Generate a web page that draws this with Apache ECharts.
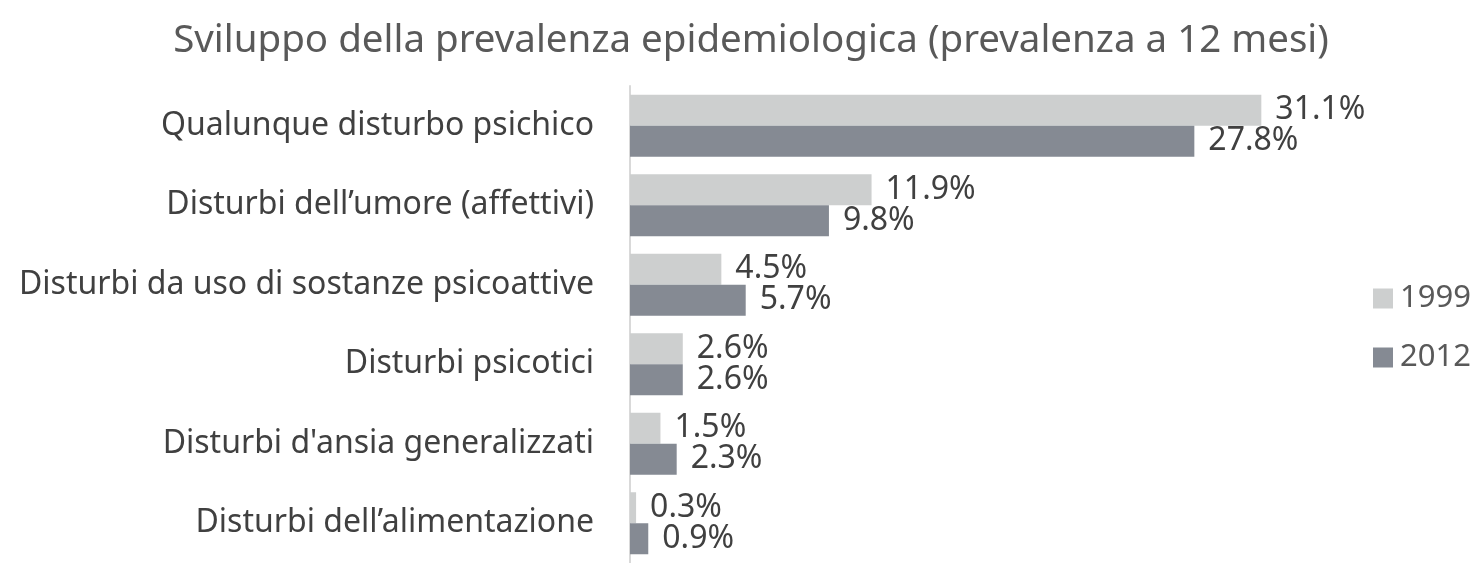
<!DOCTYPE html>
<html>
<head>
<meta charset="utf-8">
<script src="https://cdn.jsdelivr.net/npm/echarts@6/dist/echarts.min.js"></script>
<style>
  html, body { margin: 0; padding: 0; background: #fff; }
  #chart { width: 1476px; height: 563px; }
</style>
</head>
<body>
<div id="chart"></div>
<script>
var categories = [
  'Qualunque disturbo psichico',
  'Disturbi dell\u2019umore (affettivi)',
  'Disturbi da uso di sostanze psicoattive',
  'Disturbi psicotici',
  "Disturbi d'ansia generalizzati",
  'Disturbi dell\u2019alimentazione'
];
var values1999 = [31.1, 11.9, 4.5, 2.6, 1.5, 0.3];
var values2012 = [27.8, 9.8, 5.7, 2.6, 2.3, 0.9];
var seriesNames = ['1999', '2012'];

var font = 'Noto Sans';
var myChart = echarts.init(document.getElementById('chart'));

function makeSeries(name, data, color) {
  return {
    name: name,
    type: 'bar',
    data: data,
    barGap: '0%',
    barCategoryGap: '22%',
    itemStyle: { color: color },
    label: {
      show: true,
      position: 'right',
      distance: 14,
      fontFamily: font,
      fontSize: 32,
      color: '#404040',
      formatter: function (p) { return p.value.toFixed(1) + '%'; }
    }
  };
}

var option = {
  animation: false,
  title: {
    text: 'Sviluppo della prevalenza epidemiologica (prevalenza a 12 mesi)',
    left: 746,
    textAlign: 'center',
    top: 17,
    textStyle: { fontFamily: font, fontSize: 38.5, fontWeight: 'normal', color: '#595959' }
  },
  legend: {
    data: seriesNames,
    orient: 'vertical',
    left: 1368,
    top: 278,
    itemWidth: 20,
    itemHeight: 20,
    itemGap: 28,
    icon: 'rect',
    textStyle: { fontFamily: font, fontSize: 31, color: '#595959', padding: [0, 0, 0, 2] }
  },
  grid: {
    left: 630,
    top: 86,
    width: 812,
    height: 483
  },
  xAxis: {
    type: 'value',
    min: 0,
    max: 40,
    show: false
  },
  yAxis: {
    type: 'category',
    data: categories,
    inverse: true,
    axisLine: { show: true, lineStyle: { color: '#d9d9d9', width: 2 } },
    axisTick: { show: false },
    axisLabel: { margin: 36, fontFamily: font, fontSize: 32, color: '#404040' }
  },
  series: [
    makeSeries(seriesNames[0], values1999, '#cdcfcf'),
    makeSeries(seriesNames[1], values2012, '#858a93')
  ]
};

myChart.setOption(option);
</script>
</body>
</html>
